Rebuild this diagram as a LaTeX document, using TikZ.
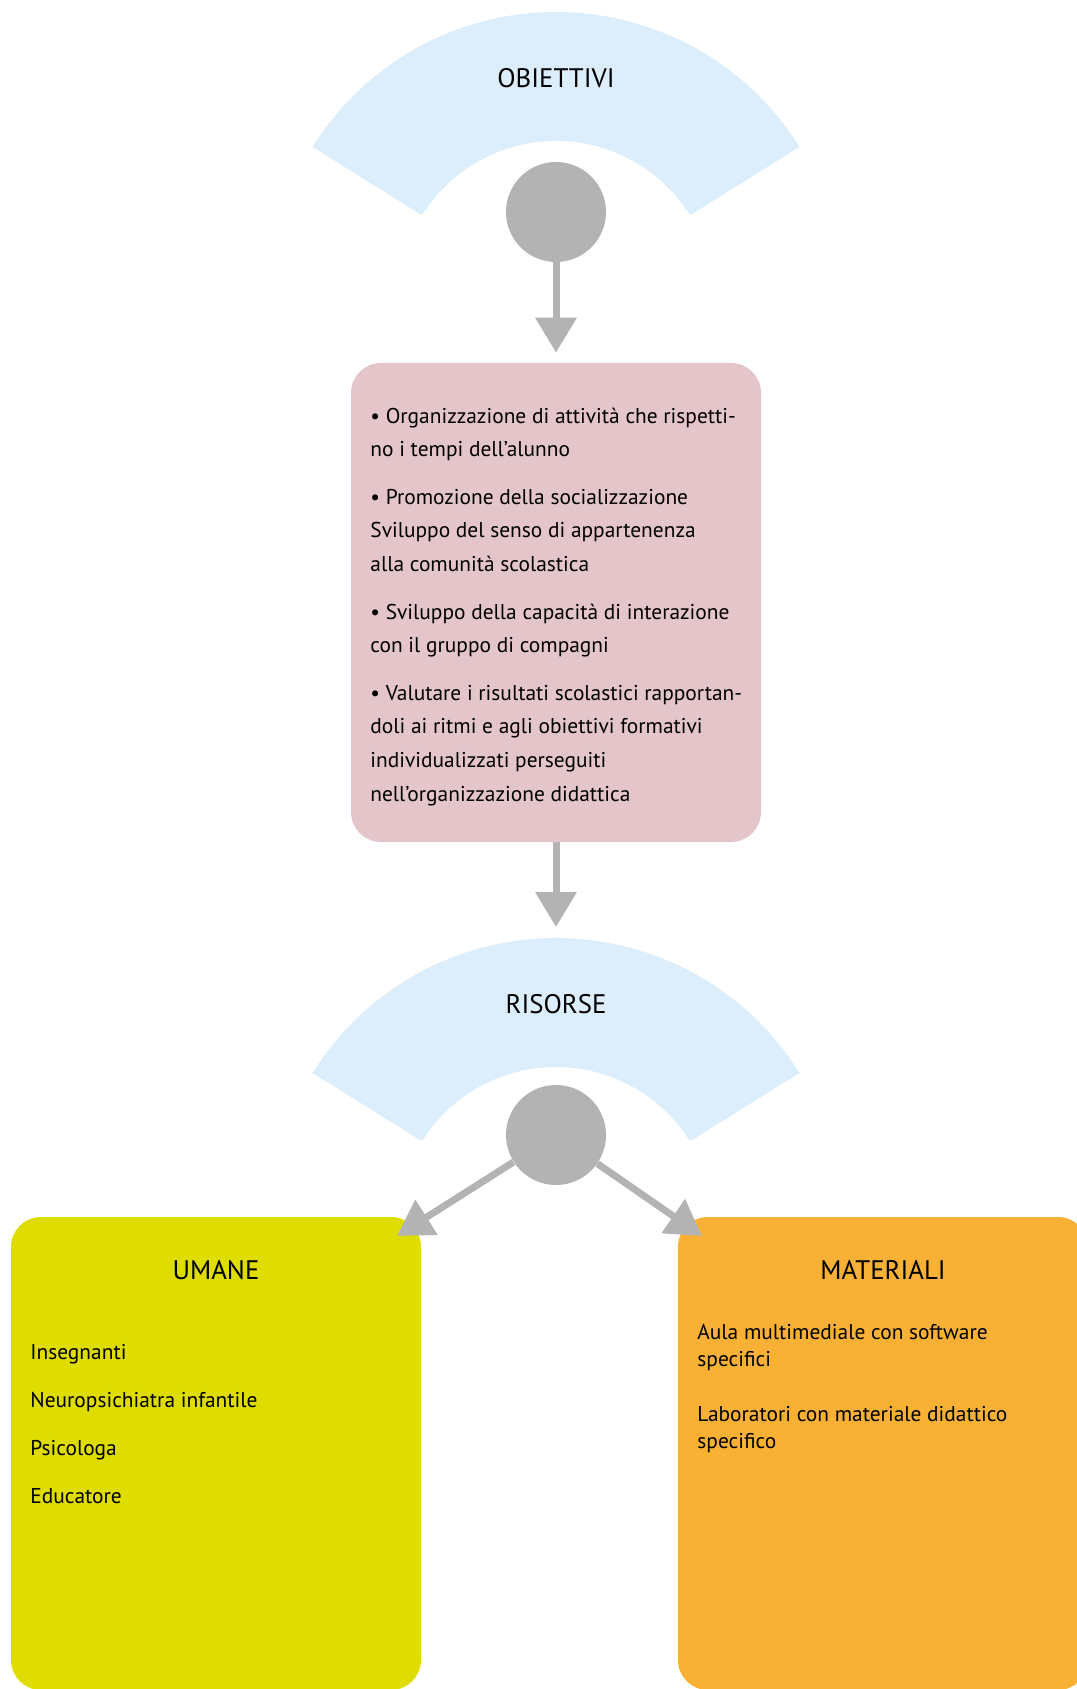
\documentclass[tikz,border=0pt]{standalone}
\usepackage{fontspec}
\setmainfont{PT Sans}
\usetikzlibrary{arrows.meta,calc}

\definecolor{fanblue}{HTML}{DCEDFB}
\definecolor{dotgrey}{HTML}{B3B3B3}
\definecolor{goalpink}{HTML}{E3C5CA}
\definecolor{humangreen}{HTML}{DFDC00}
\definecolor{toolorange}{HTML}{F8B134}

\begin{document}
\begin{tikzpicture}[x=.5pt,y=-.5pt,
    dot/.style={circle,fill=dotgrey,minimum size=50pt,inner sep=0pt},
    link/.style={draw=dotgrey,line width=3.5pt,-{Triangle[length=17.5pt,width=20pt]}},
    card/.style={rounded corners=15pt,minimum width=205pt,inner sep=0pt},
    title/.style={font=\fontsize{13.4}{16}\selectfont,inner sep=0pt},
    body/.style={align=left,anchor=north west,inner sep=0pt}]
  \useasboundingbox (0,0) rectangle (1076,1689);

  % fans
  \fill[fanblue] (556,299) ++(-32:287) arc[start angle=-32,end angle=-148,radius=287]
        -- ($(556,299)+(-148:158)$) arc[start angle=-148,end angle=-32,radius=158] -- cycle;
  \fill[fanblue] (556,1225) ++(-32:287) arc[start angle=-32,end angle=-148,radius=287]
        -- ($(556,1225)+(-148:158)$) arc[start angle=-148,end angle=-32,radius=158] -- cycle;
  \node[title] (objlabel) at (556,78) {OBIETTIVI};
  \node[title] (reslabel) at (556,1004) {RISORSE};
  \node[dot] (obj) at (556,212) {};
  \node[dot] (res) at (556,1135) {};
  \coordinate (restop) at (556,938);

  % boxes
  \node[card,fill=goalpink,minimum height=239.5pt] (goals) at (556,602.5) {};
  \node[card,fill=humangreen,minimum height=236.5pt] (human) at (216,1453.5) {};
  \node[card,fill=toolorange,minimum height=236.5pt] (tools) at (883,1453.5) {};

  \node[body,font=\fontsize{10.7}{16.8}\selectfont] (goalstext) at (370,402.7)
    {\rule{0pt}{10pt}• Organizzazione di attività che rispetti-\\
     no i tempi dell’alunno\\[7pt]
     • Promozione della socializzazione\\
     Sviluppo del senso di appartenenza\\
     alla comunità scolastica\\[7pt]
     • Sviluppo della capacità di interazione\\
     con il gruppo di compagni\\[7pt]
     • Valutare i risultati scolastici rapportan-\\
     doli ai ritmi e agli obiettivi formativi\\
     individualizzati perseguiti\\
     nell’organizzazione didattica};

  \node[title] (humanlabel) at (216,1270) {UMANE};
  \node[title] (toolslabel) at (883,1270) {MATERIALI};
  \node[body,font=\fontsize{10.7}{24}\selectfont] (humantext) at (30,1339)
    {\rule{0pt}{10pt}Insegnanti\\ Neuropsichiatra infantile\\ Psicologa\\ Educatore};
  \node[body,font=\fontsize{10.7}{13.5}\selectfont] (toolstext) at (697,1319)
    {\rule{0pt}{10pt}Aula multimediale con software\\ specifici\\[14pt]
     Laboratori con materiale didattico\\ specifico};

  % arrows
  \coordinate (humantip) at (397,1236);
  \coordinate (toolstip) at (702,1236);
  \draw[link,shorten >=5pt] (obj) -- (goals.north);
  \draw[link,shorten >=5.5pt] (goals.south) -- (restop);
  \draw[link] (res) -- (humantip);
  \draw[link] (res) -- (toolstip);
\end{tikzpicture}
\end{document}
